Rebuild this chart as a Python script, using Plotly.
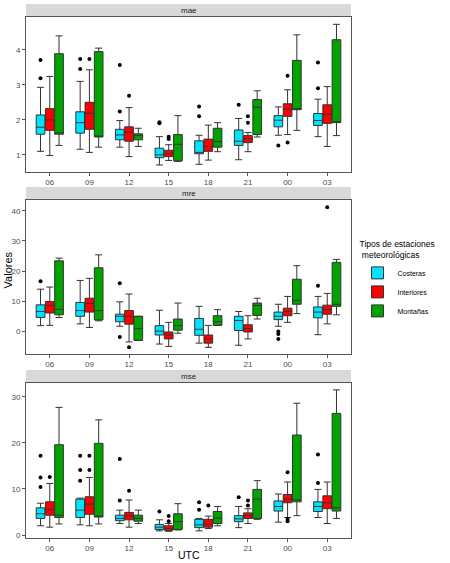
import plotly.graph_objects as go

# UTC hours on the x axis
horas = ["06", "09", "12", "15", "18", "21", "00", "03"]

grupos = ["Costeras", "Interiores", "Montañas"]
colores = {"Costeras": "#00E5FF", "Interiores": "#FF0000", "Montañas": "#00A300"}

# --- mae ---
mae_costeras = dict(
    low=[1.10, 1.16, 1.22, 0.71, 0.73, 0.86, 1.56, 1.52],
    q1=[1.59, 1.62, 1.43, 0.92, 1.03, 1.27, 1.80, 1.84],
    med=[1.79, 1.92, 1.57, 1.00, 1.07, 1.39, 1.99, 1.98],
    q3=[2.14, 2.23, 1.73, 1.19, 1.40, 1.71, 2.12, 2.18],
    high=[2.93, 3.10, 1.98, 1.52, 1.56, 2.04, 2.37, 2.59],
    out=[[3.71, 3.19], [3.74, 3.45], [3.57, 2.24], [1.93, 1.90], [2.38, 2.10], [2.43], [1.27], [3.64, 2.90]],
)
mae_interiores = dict(
    low=[0.98, 1.07, 0.95, 0.84, 0.85, 1.09, 1.58, 1.24],
    q1=[1.70, 1.73, 1.39, 0.95, 1.10, 1.35, 2.10, 1.90],
    med=[2.00, 2.19, 1.65, 1.03, 1.24, 1.46, 2.31, 2.16],
    q3=[2.32, 2.50, 1.80, 1.13, 1.45, 1.55, 2.46, 2.43],
    high=[3.24, 3.43, 2.35, 1.29, 1.85, 1.64, 2.86, 2.95],
    out=[[], [3.74], [2.69], [1.52, 1.45], [], [2.10, 1.92], [3.26, 1.35], []],
)
mae_montanas = dict(
    low=[1.27, 1.22, 1.24, 0.81, 1.09, 1.51, 1.70, 1.55],
    q1=[1.59, 1.51, 1.43, 0.83, 1.22, 1.58, 2.29, 1.92],
    med=[1.63, 1.53, 1.55, 1.30, 1.38, 2.36, 2.32, 1.94],
    q3=[3.89, 3.95, 1.60, 1.58, 1.76, 2.58, 3.70, 4.29],
    high=[4.40, 4.05, 1.76, 2.12, 1.92, 2.83, 4.43, 4.73],
    out=[[], [], [], [], [], [], [], []],
)

# --- mre ---
mre_costeras = dict(
    low=[1.9, 2.5, 1.7, -4.2, -3.9, -4.6, 1.7, -1.1],
    q1=[4.6, 5.0, 3.2, -1.2, -1.3, 0.3, 3.9, 4.5],
    med=[6.6, 6.9, 5.0, 0.1, 0.7, 3.6, 5.0, 6.4],
    q3=[8.8, 9.6, 5.7, 1.9, 4.3, 5.0, 6.4, 8.1],
    high=[14.0, 16.9, 9.8, 7.0, 8.3, 6.6, 9.0, 11.6],
    out=[[16.6], [], [16.0, -1.9], [], [], [], [0.0, -0.9, -2.5], [15.1]],
)
mre_interiores = dict(
    low=[2.0, 1.3, -3.5, -5.0, -5.3, -2.5, 3.0, 2.5],
    q1=[6.1, 6.4, 2.4, -2.5, -3.9, -0.2, 5.2, 5.7],
    med=[8.6, 9.3, 5.0, -1.2, -2.5, 0.9, 6.6, 7.2],
    q3=[9.9, 11.0, 6.9, -0.2, -1.2, 2.2, 7.7, 8.7],
    high=[14.7, 17.6, 12.4, 3.0, 2.0, 5.2, 11.6, 12.6],
    out=[[], [], [-5.3], [], [], [], [], [41.2]],
)
mre_montanas = dict(
    low=[4.6, 3.5, -3.0, -0.6, 2.0, 4.1, 5.9, 5.5],
    q1=[5.5, 3.8, -3.0, 0.4, 2.0, 5.3, 9.0, 8.3],
    med=[7.3, 6.9, 0.9, 1.9, 3.2, 8.6, 10.3, 9.0],
    q3=[23.4, 21.1, 5.0, 4.1, 5.2, 9.4, 17.3, 22.9],
    high=[24.3, 25.4, 5.0, 9.4, 7.2, 11.0, 21.8, 23.9],
    out=[[], [], [], [], [], [], [], []],
)

# --- mse ---
mse_costeras = dict(
    low=[2.0, 2.2, 2.5, 0.9, 0.9, 1.6, 2.8, 3.8],
    q1=[3.6, 3.8, 3.1, 1.2, 1.6, 2.9, 5.2, 5.1],
    med=[4.6, 5.4, 3.6, 1.7, 2.2, 3.5, 6.2, 6.2],
    q3=[5.9, 7.8, 4.3, 2.3, 3.4, 4.2, 7.4, 7.2],
    high=[6.9, 8.0, 5.4, 3.3, 3.6, 6.2, 8.9, 9.9],
    out=[[17.2, 12.5, 10.4], [17.2, 14.1, 11.8], [16.5, 7.5], [5.1], [7.1, 5.5], [8.2], [], [17.5, 11.3]],
)
mse_interiores = dict(
    low=[1.7, 2.0, 1.7, 0.8, 1.4, 2.5, 3.8, 2.5],
    q1=[4.3, 4.5, 3.3, 1.0, 1.7, 3.6, 7.0, 5.7],
    med=[5.5, 6.7, 4.2, 1.4, 2.3, 4.2, 7.8, 7.0],
    q3=[7.2, 8.3, 4.9, 2.0, 3.4, 4.8, 8.8, 8.5],
    high=[11.2, 12.5, 7.6, 2.5, 4.1, 5.7, 11.5, 11.5],
    out=[[12.6], [17.2, 14.1], [9.6], [4.1, 3.0], [6.4], [7.5, 6.4], [13.6, 3.5, 3.0], []],
)
mse_montanas = dict(
    low=[2.4, 2.4, 2.5, 1.1, 2.0, 3.4, 4.2, 3.6],
    q1=[3.8, 3.9, 3.0, 1.2, 2.5, 3.6, 7.2, 5.2],
    med=[4.3, 4.1, 3.6, 2.9, 3.7, 7.8, 7.6, 5.9],
    q3=[19.6, 19.9, 4.3, 4.6, 5.1, 9.9, 21.7, 26.4],
    high=[27.7, 25.0, 5.4, 6.8, 6.2, 11.8, 28.6, 31.5],
    out=[[], [], [], [], [], [], [], []],
)

paneles = [
    ("mae", [mae_costeras, mae_interiores, mae_montanas]),
    ("mre", [mre_costeras, mre_interiores, mre_montanas]),
    ("mse", [mse_costeras, mse_interiores, mse_montanas]),
]

# layout of the three facets (paper coords), top to bottom
dominios = [[0.6854, 0.9757], [0.3446, 0.6330], [0.0, 0.2903]]
tiras = [[0.9766, 1.0], [0.6335, 0.6573], [0.2908, 0.3146]]
rangos = [[0.51, 4.94], [-7.5, 43.6], [-0.65, 33.0]]
pasos = [1, 10, 10]

FONT = "Liberation Sans, Arial, sans-serif"

fig = go.Figure()

for i, (nombre, series) in enumerate(paneles):
    xa = "x" if i == 0 else f"x{i + 1}"
    ya = "y" if i == 0 else f"y{i + 1}"
    for grupo, s in zip(grupos, series):
        fig.add_trace(
            go.Box(
                x=horas,
                lowerfence=s["low"],
                q1=s["q1"],
                median=s["med"],
                q3=s["q3"],
                upperfence=s["high"],
                name=grupo,
                legendgroup=grupo,
                showlegend=(i == 0),
                offsetgroup=grupo,
                fillcolor=colores[grupo],
                line=dict(color="#333333", width=1),
                whiskerwidth=0.8,
                boxpoints=False,
                xaxis=xa,
                yaxis=ya,
            )
        )
        # outliers, drawn with an invisible box in the same slot
        out_x = [h for h, vals in zip(horas, s["out"]) for _ in vals]
        out_y = [v for vals in s["out"] for v in vals]
        if out_y:
            fig.add_trace(
                go.Box(
                    x=out_x,
                    y=out_y,
                    name=grupo,
                    legendgroup=grupo,
                    showlegend=False,
                    offsetgroup=grupo,
                    fillcolor="rgba(0,0,0,0)",
                    line=dict(color="rgba(0,0,0,0)", width=0),
                    boxpoints="all",
                    jitter=0,
                    pointpos=0,
                    marker=dict(color="black", size=4),
                    xaxis=xa,
                    yaxis=ya,
                )
            )

    eje_x = dict(
        domain=[0, 1],
        anchor=ya,
        type="category",
        categoryorder="array",
        categoryarray=horas,
        range=[-0.6, 7.6],
        showline=True,
        mirror=True,
        linecolor="#555555",
        linewidth=1,
        ticks="outside",
        ticklen=3,
        tickcolor="#555555",
        ticklabelstandoff=-1,
        tickfont=dict(size=8, color="#4D4D4D", family=FONT),
        showgrid=False,
        zeroline=False,
    )
    eje_y = dict(
        domain=dominios[i],
        anchor=xa,
        range=rangos[i],
        dtick=pasos[i],
        tick0=0,
        showline=True,
        mirror=True,
        linecolor="#555555",
        linewidth=1,
        ticks="outside",
        ticklen=3,
        tickcolor="#555555",
        tickfont=dict(size=8, color="#4D4D4D", family=FONT),
        showgrid=False,
        zeroline=False,
    )
    fig.update_layout({("xaxis" if i == 0 else f"xaxis{i + 1}"): eje_x,
                       ("yaxis" if i == 0 else f"yaxis{i + 1}"): eje_y})

    # facet strip
    fig.add_shape(
        type="rect", xref="paper", yref="paper",
        x0=0, x1=1, y0=tiras[i][0], y1=tiras[i][1],
        fillcolor="#D9D9D9", line=dict(width=0), layer="below",
    )
    fig.add_annotation(
        x=0.5, y=(tiras[i][0] + tiras[i][1]) / 2, xref="paper", yref="paper",
        xanchor="center", yanchor="middle",
        text=nombre, showarrow=False,
        font=dict(size=8, color="#1A1A1A", family=FONT),
    )

fig.add_annotation(
    x=-0.057, y=0.502, xref="paper", yref="paper", text="Valores",
    xanchor="center", yanchor="middle",
    textangle=-90, showarrow=False, font=dict(size=11, color="black", family=FONT),
)
fig.add_annotation(
    x=0.5, y=-0.031, xref="paper", yref="paper", text="UTC",
    xanchor="center", yanchor="middle",
    showarrow=False, font=dict(size=10.5, color="black", family=FONT),
)

fig.update_layout(
    width=450,
    height=563,
    margin=dict(l=26, r=99, t=4, b=25),
    paper_bgcolor="white",
    plot_bgcolor="white",
    boxmode="group",
    boxgap=0.3,
    boxgroupgap=0.06,
    font=dict(family=FONT),
    legend=dict(
        title=dict(text="Tipos de estaciones<br> meteorológicas",
                   font=dict(size=8.5, color="black", family=FONT)),
        x=1.02, y=0.565, xanchor="left", yanchor="top",
        font=dict(size=7, color="black", family=FONT),
        tracegroupgap=0,
        bgcolor="rgba(0,0,0,0)",
    ),
)

fig.write_html(
    "out.html",
    config={"displayModeBar": False},
    post_script="document.body.style.margin='0px';",
)
